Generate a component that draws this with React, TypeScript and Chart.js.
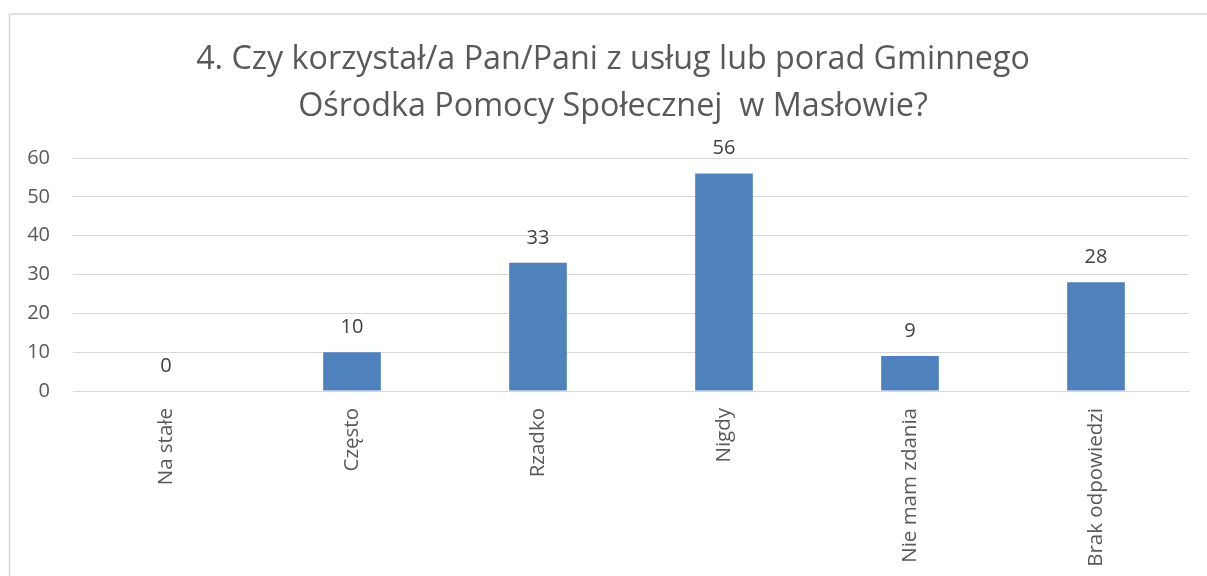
import React, { useEffect, useRef } from "react";
import { Chart, registerables } from "chart.js";

Chart.register(...registerables);

const categories = ["Na stałe", "Często", "Rzadko", "Nigdy", "Nie mam zdania", "Brak odpowiedzi"];
const values = [0, 10, 33, 56, 9, 28];
const titleLines = [
  "4. Czy korzystał/a Pan/Pani z usług lub porad Gminnego",
  "Ośrodka Pomocy Społecznej  w Masłowie?",
];
const yMin = 0;
const yMax = 60;
const yStep = 10;

const FONT = "'Open Sans', sans-serif";
const TEXT = "#595959";

const framePlugin = {
  id: "frame",
  beforeDraw(chart: any) {
    const ctx = chart.ctx;
    ctx.save();
    ctx.fillStyle = "#ffffff";
    ctx.fillRect(0, 0, chart.width, chart.height);
    ctx.strokeStyle = "#D9D9D9";
    ctx.lineWidth = 1.5;
    ctx.strokeRect(9.5, 14, 1400, 800);
    ctx.restore();
  },
  afterDraw(chart: any) {
    const ctx = chart.ctx;
    ctx.save();
    ctx.fillStyle = TEXT;
    ctx.font = `32.3px ${FONT}`;
    ctx.textAlign = "center";
    ctx.textBaseline = "alphabetic";
    ctx.fillText(titleLines[0], 613, 69);
    ctx.fillText(titleLines[1], 613, 116);
    // data labels
    const meta = chart.getDatasetMeta(0);
    ctx.fillStyle = "#404040";
    ctx.font = `20px ${FONT}`;
    ctx.textBaseline = "middle";
    meta.data.forEach((bar: any, i: number) => {
      ctx.fillText(String(values[i]), bar.x, bar.y - 25);
    });
    ctx.restore();
  },
};

export default function App() {
  const ref = useRef<HTMLCanvasElement>(null);
  useEffect(() => {
    if (!ref.current) return;
    const chart = new Chart(ref.current, {
      type: "bar",
      data: {
        labels: categories,
        datasets: [
          {
            data: values,
            backgroundColor: "#4F81BD",
            borderWidth: 0,
            barPercentage: 0.31,
            categoryPercentage: 1,
          },
        ],
      },
      options: {
        responsive: false,
        animation: false,
        layout: { padding: { left: 0, right: 18, top: 158, bottom: 0 } },
        plugins: { legend: { display: false }, tooltip: { enabled: false }, title: { display: false } },
        scales: {
          x: {
            grid: { display: false, drawTicks: false },
            border: { display: true, color: "#D9D9D9", width: 1 },
            ticks: {
              color: TEXT,
              font: { family: FONT, size: 20.5 },
              minRotation: 90,
              maxRotation: 90,
              padding: 17,
              autoSkip: false,
            },
            afterFit(scale: any) {
              scale.height = 185;
            },
          },
          y: {
            min: yMin,
            max: yMax,
            grid: { color: "#D9D9D9", lineWidth: 1, drawTicks: false },
            border: { display: false },
            ticks: {
              stepSize: yStep,
              color: TEXT,
              font: { family: FONT, size: 20 },
              padding: 23,
            },
            afterFit(scale: any) {
              scale.width = 73;
            },
          },
        },
      },
      plugins: [framePlugin],
    } as any);
    return () => chart.destroy();
  }, []);
  return (
    <div style={{ position: "fixed", left: 0, top: 0, width: 1207, height: 576 }}>
      <canvas ref={ref} width={1207} height={576} style={{ display: "block" }} />
    </div>
  );
}
